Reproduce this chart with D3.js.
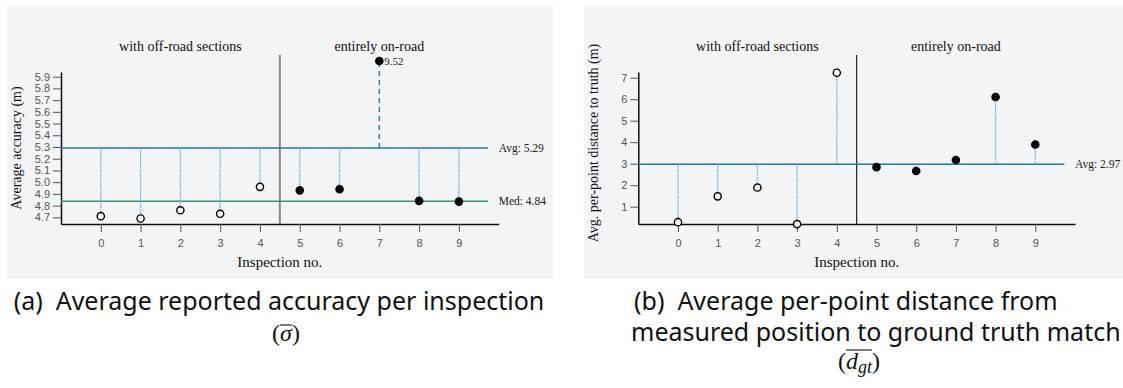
<!DOCTYPE html>
<html>
<head>
<meta charset="utf-8">
<script src="https://cdn.jsdelivr.net/npm/d3@7"></script>
<style>
  body { margin: 0; background: #fff; }
  svg { display: block; }
  .tick text { font-family: "Liberation Sans", Arial, sans-serif; font-size: 11px; fill: #555; }
  .tick line { stroke: #555; }
  .domain { stroke: #111; stroke-width: 1.5; }
</style>
</head>
<body>
<svg id="chart" width="1123" height="388"></svg>
<script>
(function() {

  // data
  var inspections = [0, 1, 2, 3, 4, 5, 6, 7, 8, 9];
  var offRoad = [true, true, true, true, true, false, false, false, false, false];
  var accuracy = [4.71, 4.69, 4.76, 4.73, 4.96, 4.93, 4.94, 9.52, 4.84, 4.834];
  var gtDistance = [0.28, 1.48, 1.89, 0.19, 7.23, 2.84, 2.66, 3.17, 6.10, 3.89];
  var accuracyTicks = [4.7, 4.8, 4.9, 5.0, 5.1, 5.2, 5.3, 5.4, 5.5, 5.6, 5.7, 5.8, 5.9];
  var distanceTicks = [1, 2, 3, 4, 5, 6, 7];
  var groupLabels = ["with off-road sections", "entirely on-road"];
  var groupCenters = [2, 7];

  var svg = d3.select("#chart");

  function drawPanel(cfg) {
    var g = svg.append("g");

    g.append("rect")
      .attr("x", cfg.bg[0]).attr("y", 6)
      .attr("width", cfg.bg[1] - cfg.bg[0]).attr("height", 273)
      .attr("fill", "#f3f4f6");

    var x = d3.scaleLinear().domain([-1, 10]).range([cfg.left, cfg.right]);
    var y = d3.scaleLinear().domain(cfg.yDomain).range([224, 72]);
    var yMax = cfg.yDomain[1];
    // points above the axis are drawn just over its top
    var py = function(v) { return v > yMax ? y(yMax) - 11 : y(v); };

    // axes
    g.append("g")
      .attr("transform", "translate(0,224)")
      .call(d3.axisBottom(x).tickValues(inspections).tickFormat(d3.format("d"))
        .tickSize(8).tickPadding(7).tickSizeOuter(0));
    g.append("g")
      .attr("transform", "translate(" + cfg.left + ",0)")
      .call(d3.axisLeft(y).tickValues(cfg.ticks).tickFormat(d3.format(cfg.tickFmt))
        .tickSize(8).tickPadding(3).tickSizeOuter(0));

    // separator between groups
    g.append("line")
      .attr("x1", x(4.5)).attr("x2", x(4.5))
      .attr("y1", 55).attr("y2", 224)
      .attr("stroke", cfg.sepColor).attr("stroke-width", cfg.sepWidth);

    g.selectAll("text.group").data(groupLabels).enter()
      .append("text")
      .attr("class", "group")
      .attr("x", function(d, i) { return x(groupCenters[i]); })
      .attr("y", 51)
      .attr("text-anchor", "middle")
      .attr("style", "font-family:'Liberation Serif',serif;font-size:14px;fill:#111;")
      .text(function(d) { return d; });

    // reference lines
    cfg.refs.forEach(function(r) {
      g.append("line")
        .attr("x1", x(-1)).attr("x2", x(9.73))
        .attr("y1", y(r.value)).attr("y2", y(r.value))
        .attr("stroke", r.color).attr("stroke-width", 1.5);
      g.append("text")
        .attr("x", x(10)).attr("y", y(r.value) + 4)
        .attr("style", "font-family:'Liberation Serif',serif;font-size:11.5px;fill:#222;")
        .text(r.label + ": " + r.value.toFixed(2));
    });

    var avg = cfg.refs[0].value;

    // stems from the average to each point
    g.selectAll("line.stem").data(cfg.values).enter()
      .append("line")
      .attr("class", "stem")
      .attr("x1", function(d, i) { return x(inspections[i]); })
      .attr("x2", function(d, i) { return x(inspections[i]); })
      .attr("y1", y(avg))
      .attr("y2", function(d) { return py(d); })
      .attr("stroke", function(d) { return d > yMax ? "#2a7fc0" : "#5aa6dc"; })
      .attr("stroke-width", function(d) { return d > yMax ? 1.5 : 1.3; })
      .attr("stroke-dasharray", function(d) { return d > yMax ? "5,4" : "1.2,0.9"; });

    g.selectAll("circle").data(cfg.values).enter()
      .append("circle")
      .attr("cx", function(d, i) { return x(inspections[i]); })
      .attr("cy", function(d) { return py(d); })
      .attr("r", 3.6)
      .attr("fill", function(d, i) { return offRoad[i] ? "#fff" : "#000"; })
      .attr("stroke", "#000")
      .attr("stroke-width", 1.4);

    // value label for the point that is off the scale
    g.selectAll("text.out").data(cfg.values.filter(function(d) { return d > yMax; })).enter()
      .append("text")
      .attr("class", "out")
      .attr("x", function(d) { return x(inspections[cfg.values.indexOf(d)]) + 5; })
      .attr("y", function(d) { return py(d) + 4; })
      .attr("style", "font-family:'Liberation Serif',serif;font-size:11px;fill:#222;")
      .text(function(d) { return d.toFixed(2); });

    // axis titles
    g.append("text")
      .attr("x", (cfg.left + cfg.right) / 2).attr("y", 267)
      .attr("text-anchor", "middle")
      .attr("style", "font-family:'Liberation Serif',serif;font-size:15px;fill:#111;")
      .text("Inspection no.");
    g.append("text")
      .attr("transform", "translate(" + cfg.yTitleX + "," + cfg.yTitleY + ") rotate(-90)")
      .attr("text-anchor", "middle")
      .attr("style", "font-family:'Liberation Serif',serif;font-size:14px;fill:#111;")
      .text(cfg.yTitle);
  }

  drawPanel({
    bg: [7, 553], left: 61, right: 498.7,
    yDomain: [4.643, 5.94], ticks: accuracyTicks, tickFmt: ".1f",
    values: accuracy,
    refs: [
      {label: "Avg", value: d3.mean(accuracy), color: "#1f77b4"},
      {label: "Med", value: d3.median(accuracy), color: "#2a9a6e"}
    ],
    sepColor: "#888", sepWidth: 2,
    yTitle: "Average accuracy (m)", yTitleX: 21, yTitleY: 148
  });

  drawPanel({
    bg: [584, 1123], left: 638.3, right: 1075,
    yDomain: [0.195, 7.265], ticks: distanceTicks, tickFmt: "d",
    values: gtDistance,
    refs: [
      {label: "Avg", value: d3.mean(gtDistance), color: "#1f77b4"}
    ],
    sepColor: "#222", sepWidth: 1.2,
    yTitle: "Avg. per-point distance to truth (m)", yTitleX: 598, yTitleY: 143
  });

  // captions
  var capStyle = "font-family:'Noto Sans',sans-serif;font-size:25px;fill:#111;";
  var mathStyle = "font-family:'Liberation Serif',serif;font-size:24px;fill:#111;";

  function overline(textEl, from, to, dy) {
    var node = textEl.node();
    var x1 = node.getStartPositionOfChar(from).x;
    var x2 = node.getEndPositionOfChar(to).x;
    var yy = node.getStartPositionOfChar(from).y + dy;
    svg.append("line")
      .attr("x1", x1).attr("x2", x2).attr("y1", yy).attr("y2", yy)
      .attr("stroke", "#111").attr("stroke-width", 1.1);
  }

  svg.append("text").attr("x", 279).attr("y", 310).attr("text-anchor", "middle")
    .attr("style", capStyle).attr("xml:space", "preserve")
    .text("(a)  Average reported accuracy per inspection");
  var sig = svg.append("text").attr("x", 286).attr("y", 341).attr("text-anchor", "middle")
    .attr("style", mathStyle);
  sig.append("tspan").text("(");
  sig.append("tspan").attr("font-style", "italic").text("σ");
  sig.append("tspan").text(")");
  overline(sig, 1, 1, -16);

  svg.append("text").attr("x", 634).attr("y", 310)
    .attr("style", capStyle).attr("xml:space", "preserve")
    .text("(b)  Average per-point distance from");
  svg.append("text").attr("x", 631).attr("y", 341)
    .attr("style", capStyle)
    .text("measured position to ground truth match");
  var dgt = svg.append("text").attr("x", 859).attr("y", 369).attr("text-anchor", "middle")
    .attr("style", mathStyle);
  dgt.append("tspan").text("(");
  dgt.append("tspan").attr("font-style", "italic").text("d");
  dgt.append("tspan").attr("font-style", "italic").attr("font-size", "18px").attr("dy", 4).text("gt");
  dgt.append("tspan").attr("dy", -4).text(")");
  overline(dgt, 1, 3, -19);

})();
</script>
</body>
</html>
